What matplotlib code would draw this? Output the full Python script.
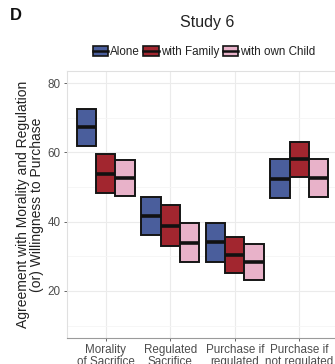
import matplotlib.pyplot as plt
import numpy as np
from matplotlib.patches import Patch
from matplotlib.lines import Line2D
from matplotlib.legend_handler import HandlerTuple

plt.rcParams['font.family'] = ['Liberation Sans', 'DejaVu Sans']

categories = ["Morality\nof Sacrifice", "Regulated\nSacrifice", "Purchase if\nregulated", "Purchase if\nnot regulated"]
conditions = ["Alone", "with Family", "with own Child"]
colors = ["#4a5e9c", "#a2262f", "#e8b2c9"]

means = {
    "Alone":          [67.2, 41.7, 34.0, 52.3],
    "with Family":    [53.9, 38.8, 30.4, 58.1],
    "with own Child": [52.5, 33.9, 28.3, 52.5],
}
lower = {
    "Alone":          [61.9, 36.1, 28.4, 46.7],
    "with Family":    [48.3, 33.0, 25.1, 52.8],
    "with own Child": [47.4, 28.3, 23.2, 47.2],
}
upper = {
    "Alone":          [72.5, 47.2, 39.5, 58.0],
    "with Family":    [59.4, 44.7, 35.5, 63.1],
    "with own Child": [57.8, 39.5, 33.5, 58.0],
}

fig = plt.figure(figsize=(3.35, 3.64), dpi=100)
ax = fig.add_axes([67 / 335, 26 / 364, 271 / 335, 267 / 364])

x = np.arange(1, len(categories) + 1)
width = 0.3
offsets = [-0.3, 0.0, 0.3]

for cond, col, off in zip(conditions, colors, offsets):
    lo = np.array(lower[cond])
    hi = np.array(upper[cond])
    ax.bar(x + off, hi - lo, bottom=lo, width=width, color=col,
           edgecolor="#151515", linewidth=1.4, zorder=3)
    ax.hlines(means[cond], x + off - width / 2, x + off + width / 2,
              colors="#111111", linewidth=2.6, zorder=4)

ax.set_xlim(0.4, 4.6)
ax.set_ylim(6.4, 83.5)
ax.set_yticks([20, 40, 60, 80])
ax.set_yticks([10, 30, 50, 70], minor=True)
ax.set_xticks(x)
ax.set_xticklabels(categories)
ax.grid(True, which="major", color="#ebebeb", linewidth=0.8, zorder=0)
ax.grid(True, which="minor", axis="y", color="#f5f5f5", linewidth=0.6, zorder=0)
ax.set_axisbelow(True)
for side in ["top", "left", "right"]:
    ax.spines[side].set_color("#e0e0e0")
    ax.spines[side].set_linewidth(0.8)
ax.spines["bottom"].set_color("#9a9a9a")
ax.spines["bottom"].set_linewidth(0.8)
ax.tick_params(axis="both", which="major", labelsize=8.4, labelcolor="#4d4d4d",
               color="#4d4d4d", length=2.5, width=0.6, pad=2)
ax.tick_params(axis="y", which="minor", length=0)
for lbl in ax.get_xticklabels():
    lbl.set_linespacing(0.95)

ax.set_ylabel("Agreement with Morality and Regulation\n(or) Willingness to Purchase",
              fontsize=10, color="#222222", labelpad=3, linespacing=0.95)

fig.text(207 / 335, 1 - 22 / 364, "Study 6", ha="center", va="center", fontsize=11.5,
         color="#222222")
fig.text(10 / 335, 1 - 16 / 364, "D", ha="left", va="center", fontsize=12,
         fontweight="bold", color="#111111")

handles = [(Patch(facecolor=c, edgecolor="#151515", linewidth=1.2),
            Line2D([], [], color="#111111", linewidth=1.8)) for c in colors]
leg = fig.legend(handles, conditions, handler_map={tuple: HandlerTuple(ndivide=1, pad=0)},
                 loc="center", bbox_to_anchor=(204 / 335, 1 - 52 / 364), ncol=3,
                 frameon=False, fontsize=8.4, handlelength=1.3, handleheight=0.9,
                 handletextpad=0.2, columnspacing=0.3, borderaxespad=0)
for t in leg.get_texts():
    t.set_color("#222222")

fig.savefig("out.png", dpi=100)
